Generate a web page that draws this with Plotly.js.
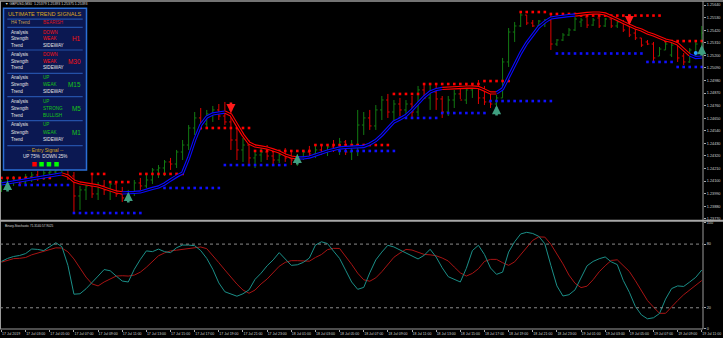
<!DOCTYPE html>
<html><head><meta charset="utf-8">
<script src="https://cdn.plot.ly/plotly-3.0.1.min.js"></script>
<style>html,body{margin:0;padding:0;background:#000;}#chart{width:723px;height:338px;}</style>
</head><body><div id="chart"></div>
<script>
// ---------------- DATA ----------------
const chartTitle = "\u25BC GBPUSD,M30  1.25379 1.25393 1.25375 1.25393";
const oscTitle = "Binary-Stochastic 71.3140 57.9025";

const xTickLabels = ["17 Jul 2019","17 Jul 03:00","17 Jul 05:00","17 Jul 07:00","17 Jul 09:00","17 Jul 11:00","17 Jul 13:00","17 Jul 15:00","17 Jul 17:00","17 Jul 19:00","17 Jul 21:00","17 Jul 23:00","18 Jul 01:00","18 Jul 03:00","18 Jul 05:00","18 Jul 07:00","18 Jul 09:00","18 Jul 11:00","18 Jul 13:00","18 Jul 15:00","18 Jul 17:00","18 Jul 19:00","18 Jul 21:00","18 Jul 23:00","19 Jul 01:00","19 Jul 03:00","19 Jul 05:00","19 Jul 07:00","19 Jul 09:00","19 Jul 11:00"];
const priceTicks = [1.2377,1.2388,1.2399,1.2410,1.2421,1.2432,1.2443,1.2454,1.2465,1.2476,1.2487,1.2498,1.2509,1.2520,1.2531,1.2542,1.2553,1.2564];
const oscTicks = [0,20,80,100];

const barOpen = [1.24039,1.24074,1.24091,1.24109,1.24083,1.24136,1.24153,1.24127,1.24171,1.24179,
1.24197,1.24197,1.24144,1.23969,1.24022,1.24057,1.23987,1.24057,1.24022,1.24074,
1.23987,1.23952,1.24004,1.24083,1.24057,1.24109,1.24197,1.24214,1.24267,1.24249,
1.24354,1.24415,1.24564,1.24652,1.24599,1.24687,1.24722,1.24669,1.24617,1.24459,
1.24372,1.24415,1.24302,1.24328,1.24354,1.24319,1.24284,1.24328,1.24302,1.24284,
1.24310,1.24354,1.24337,1.24372,1.24354,1.24398,1.24372,1.24442,1.24354,1.24415,
1.24590,1.24652,1.24582,1.24722,1.24809,1.24704,1.24774,1.24722,1.24774,1.24704,
1.24897,1.24827,1.24879,1.24818,1.24704,1.24809,1.24862,1.24809,1.24897,1.24914,
1.24827,1.24792,1.24774,1.24827,1.25142,1.25404,1.25457,1.25553,1.25483,1.25457,
1.25483,1.25509,1.25299,1.25334,1.25378,1.25422,1.25492,1.25535,1.25465,1.25527,
1.25457,1.25518,1.25457,1.25492,1.25457,1.25395,1.25352,1.25317,1.25299,1.25194,
1.25247,1.25203,1.25317,1.25194,1.25142,1.25194,1.25203];
const barHigh = [1.24109,1.24127,1.24144,1.24136,1.24162,1.24179,1.24188,1.24197,1.24214,1.24214,
1.24240,1.24214,1.24179,1.24057,1.24083,1.24153,1.24091,1.24109,1.24091,1.24083,
1.24048,1.24022,1.24109,1.24127,1.24171,1.24214,1.24240,1.24284,1.24302,1.24372,
1.24459,1.24590,1.24704,1.24739,1.24722,1.24757,1.24774,1.24792,1.24739,1.24564,
1.24477,1.24459,1.24372,1.24389,1.24415,1.24372,1.24354,1.24389,1.24354,1.24337,
1.24372,1.24407,1.24407,1.24415,1.24415,1.24459,1.24477,1.24459,1.24459,1.24722,
1.24704,1.24722,1.24765,1.24844,1.24862,1.24809,1.24827,1.24809,1.24844,1.24932,
1.24949,1.24940,1.24949,1.24844,1.24844,1.24897,1.24932,1.24958,1.24949,1.24984,
1.24932,1.24879,1.24853,1.25177,1.25439,1.25492,1.25579,1.25553,1.25509,1.25509,
1.25518,1.25570,1.25343,1.25395,1.25439,1.25535,1.25527,1.25553,1.25527,1.25553,
1.25527,1.25535,1.25509,1.25509,1.25465,1.25439,1.25352,1.25334,1.25317,1.25273,
1.25317,1.25317,1.25334,1.25220,1.25264,1.25317,1.25457];
const barLow = [1.24004,1.24039,1.24057,1.24065,1.24057,1.24091,1.24100,1.24109,1.24127,1.24144,
1.24153,1.24109,1.23829,1.23847,1.23934,1.23952,1.23934,1.23978,1.23934,1.23961,
1.23917,1.23934,1.23969,1.24022,1.24039,1.24074,1.24127,1.24144,1.24197,1.24214,
1.24284,1.24372,1.24503,1.24547,1.24564,1.24617,1.24634,1.24590,1.24372,1.24284,
1.24267,1.24240,1.24214,1.24267,1.24284,1.24240,1.24258,1.24267,1.24240,1.24232,
1.24284,1.24302,1.24302,1.24328,1.24319,1.24354,1.24328,1.24328,1.24284,1.24319,
1.24503,1.24547,1.24547,1.24634,1.24652,1.24634,1.24669,1.24652,1.24652,1.24669,
1.24818,1.24722,1.24722,1.24652,1.24669,1.24739,1.24818,1.24774,1.24827,1.24774,
1.24765,1.24739,1.24722,1.24827,1.25098,1.25317,1.25448,1.25465,1.25448,1.25448,
1.25448,1.25247,1.25282,1.25325,1.25369,1.25413,1.25448,1.25439,1.25457,1.25439,
1.25448,1.25439,1.25439,1.25404,1.25360,1.25334,1.25273,1.25290,1.25142,1.25194,
1.25247,1.25185,1.25142,1.25115,1.25133,1.25185,1.25203];
const barClose = [1.24074,1.24091,1.24109,1.24083,1.24136,1.24153,1.24127,1.24171,1.24179,1.24197,
1.24205,1.24144,1.23969,1.24022,1.24057,1.23987,1.24057,1.24022,1.24074,1.23987,
1.23952,1.24004,1.24083,1.24057,1.24109,1.24197,1.24214,1.24267,1.24249,1.24354,
1.24415,1.24564,1.24652,1.24599,1.24687,1.24722,1.24669,1.24617,1.24459,1.24372,
1.24415,1.24302,1.24328,1.24354,1.24319,1.24284,1.24328,1.24302,1.24284,1.24310,
1.24354,1.24337,1.24372,1.24354,1.24398,1.24372,1.24442,1.24354,1.24415,1.24590,
1.24652,1.24582,1.24722,1.24809,1.24704,1.24774,1.24722,1.24774,1.24704,1.24897,
1.24827,1.24879,1.24818,1.24704,1.24809,1.24862,1.24809,1.24897,1.24914,1.24827,
1.24792,1.24774,1.24827,1.25142,1.25404,1.25457,1.25553,1.25483,1.25457,1.25500,
1.25509,1.25299,1.25334,1.25378,1.25422,1.25518,1.25509,1.25465,1.25509,1.25457,
1.25518,1.25457,1.25492,1.25422,1.25378,1.25352,1.25290,1.25299,1.25177,1.25255,
1.25299,1.25290,1.25177,1.25142,1.25247,1.25299,1.25395];

// trend channel (mid value) and its direction (1 = up/blue, -1 = down/red)
const chanMid = [1.24074,1.24083,1.24091,1.24100,1.24109,1.24118,1.24127,1.24136,1.24144,1.24153,
1.24162,1.24144,1.24100,1.24083,1.24074,1.24065,1.24057,1.24039,1.24022,1.24004,
1.23996,1.23996,1.24000,1.24004,1.24022,1.24035,1.24048,1.24074,1.24109,1.24144,
1.24171,1.24302,1.24459,1.24590,1.24660,1.24687,1.24696,1.24704,1.24678,1.24590,
1.24503,1.24433,1.24407,1.24398,1.24389,1.24372,1.24354,1.24328,1.24310,1.24302,
1.24302,1.24310,1.24328,1.24350,1.24363,1.24376,1.24389,1.24394,1.24398,1.24398,
1.24402,1.24424,1.24455,1.24503,1.24564,1.24617,1.24643,1.24674,1.24722,1.24783,
1.24836,1.24879,1.24901,1.24910,1.24914,1.24914,1.24919,1.24923,1.24923,1.24919,
1.24897,1.24871,1.24871,1.24906,1.25011,1.25115,1.25220,1.25308,1.25378,1.25448,
1.25492,1.25527,1.25535,1.25544,1.25548,1.25553,1.25562,1.25566,1.25570,1.25570,
1.25562,1.25540,1.25513,1.25487,1.25461,1.25439,1.25422,1.25395,1.25378,1.25356,
1.25334,1.25321,1.25299,1.25251,1.25203,1.25181,1.25185];
const chanDir = [1,1,1,1,1,1,1,1,1,1,1,
-1,-1,-1,-1,-1,-1,-1,-1,-1,-1,
1,1,1,1,1,1,1,1,1,1,1,1,1,1,1,1,1,
-1,-1,-1,-1,-1,-1,-1,-1,-1,-1,-1,-1,
1,1,1,1,1,1,1,1,1,1,1,1,1,1,1,1,1,1,1,1,1,1,1,1,
-1,-1,-1,-1,-1,-1,-1,-1,-1,
1,1,1,1,1,1,1,1,1,1,1,1,1,
-1,-1,-1,-1,-1,-1,-1,-1,-1,-1,-1,-1,-1,-1,-1,-1,-1,-1,-1,
1,1];

const N = null;
const resistLevel = [1.24127,1.24127,1.24127,1.24127,1.24127,1.24127,1.24127,1.24127,1.24127,N,
N,N,N,N,N,1.24162,1.24162,1.24162,1.24091,1.24091,
1.24091,1.24091,N,1.24162,1.24162,1.24162,1.24162,1.24162,1.24162,1.24162,
1.24162,N,N,1.24564,1.24564,1.24564,1.24564,1.24564,1.24564,1.24564,
1.24564,1.24564,1.24363,1.24363,1.24363,1.24363,1.24363,1.24363,1.24363,1.24363,
1.24363,1.24363,1.24415,1.24415,1.24415,1.24415,1.24415,1.24415,1.24415,1.24415,
1.24415,1.24415,1.24415,1.24415,1.24415,1.24862,1.24862,1.24862,1.24862,1.24862,
1.24949,1.24949,1.24949,1.24949,1.24949,1.24949,1.24949,1.24949,1.24949,1.24949,
1.24975,1.24975,1.24975,1.24975,1.24975,N,1.25579,1.25579,1.25579,1.25579,
1.25579,1.25562,1.25562,1.25562,1.25562,1.25562,1.25548,1.25548,1.25548,1.25548,
1.25548,1.25548,1.25548,1.25548,1.25548,1.25548,1.25548,1.25548,1.25548,1.25548,
1.25325,1.25325,1.25325,1.25325,1.25325,1.25325,1.25325];
const supportLevel = [N,N,N,1.24065,1.24065,1.24065,1.24065,1.24065,1.24065,1.24065,
1.24065,1.24065,1.23820,1.23820,1.23820,1.23820,1.23820,1.23820,1.23820,1.23820,
1.23820,1.23820,1.23820,1.23820,N,N,N,1.24039,1.24039,1.24039,
1.24039,1.24039,1.24039,1.24039,1.24039,1.24039,1.24039,1.24240,1.24240,1.24240,
1.24240,1.24240,1.24240,1.24240,1.24240,1.24240,1.24240,1.24240,N,N,
N,N,N,N,N,N,1.24363,1.24363,1.24363,1.24363,
1.24363,1.24363,1.24363,1.24363,1.24363,1.24363,1.24652,1.24652,1.24652,1.24652,
1.24652,1.24652,1.24652,1.24695,1.24695,1.24695,1.24695,1.24695,1.24695,1.24695,
1.24695,1.24800,1.24800,1.24800,1.24800,1.24800,1.24800,1.24800,1.24800,1.24800,
1.24800,1.24800,1.25216,1.25216,1.25216,1.25216,1.25216,1.25216,1.25216,1.25216,
1.25216,1.25216,1.25216,1.25216,1.25216,1.25216,1.25216,1.25142,1.25142,1.25142,
1.25142,1.25142,1.25098,1.25098,1.25098,1.25098,1.25098];

const upArrowBars = [1,21,49,82,116];
const upArrowPrice = [1.24100,1.24004,1.24337,1.24765,1.25290];
const downArrowBars = [38,104];
const downArrowPrice = [1.24695,1.25465];
const markBar = [115];
const markPrice = [1.25220];

const stochMain = [63.7,66.5,68.3,69.3,71.1,75.4,75.0,73.9,77.6,81.3,
77.6,60.0,32.8,33.2,37.9,44.3,49.9,56.0,54.9,49.9,
45.2,44.3,56.3,65.6,73.6,72.9,75.3,72.9,72.0,76.6,
79.1,79.1,78.5,73.9,66.5,56.3,43.4,35.1,32.8,30.9,
33.2,36.9,46.8,52.6,59.6,65.1,72.0,65.8,60.0,60.5,
62.8,66.9,79.1,82.2,80.5,73.4,66.5,55.4,44.3,37.4,
39.2,52.9,65.1,72.5,78.9,77.3,74.5,71.7,68.5,66.0,
69.4,75.1,67.8,57.7,49.3,46.5,44.3,57.2,73.9,78.9,
70.2,57.5,51.5,53.6,72.5,82.2,89.6,91.1,90.0,87.3,
80.3,60.0,40.6,31.1,32.3,36.9,48.5,59.6,63.7,66.2,
67.9,63.3,60.7,45.7,34.6,21.2,13.3,9.6,10.6,14.6,
28.2,38.1,40.6,40.1,44.3,48.7,55.6];
const stochSignal = [63.0,65.0,66.3,66.6,67.4,69.9,71.7,72.9,75.2,76.5,
76.3,72.7,66.0,58.0,48.9,42.5,40.6,44.3,47.3,49.9,
50.2,49.9,50.8,53.6,58.2,63.4,69.0,71.7,73.6,74.3,
75.1,75.7,76.7,77.3,75.7,69.4,62.5,55.6,48.9,42.3,
36.7,33.7,36.7,42.5,47.1,53.6,59.1,62.8,64.4,64.4,
64.0,63.9,67.4,70.2,74.8,76.0,75.9,68.8,60.9,52.6,
46.4,45.0,48.2,54.0,60.9,67.6,71.6,75.0,74.4,72.6,
70.3,69.9,69.0,66.9,64.1,58.4,52.9,49.9,52.4,56.8,
63.7,65.6,65.6,62.5,60.0,63.3,70.2,77.1,83.6,86.8,
86.6,79.9,71.1,61.4,50.8,43.1,39.0,40.4,46.5,53.9,
59.6,64.6,65.2,59.7,54.2,45.5,36.6,26.8,20.6,14.8,
14.8,21.2,26.8,32.3,36.9,41.6,45.7];
const oscLevels = [20,80];

// dashboard panel
const panelTitle = "ULTIMATE TREND SIGNALS";
const h4Label = "H4 Trend", h4Trend = "BEARISH";
const tfNames = ["H1","M30","M15","M5","M1"];
const tfAnalysis = ["DOWN","DOWN","UP","UP","UP"];
const tfStrength = ["WEAK","WEAK","WEAK","STRONG","WEAK"];
const tfTrend = ["SIDEWAY","SIDEWAY","SIDEWAY","BULLISH","SIDEWAY"];
const entryTitle = "-- Entry Signal --";
const entryUp = 75, entryDown = 25;
const signalStates = [-1,1,1,1];

// ---------------- DRAW ----------------
const bars = barOpen.map((_, i) => i);
const W = 703, TOP = 3, BOT = 329, PH = BOT - TOP;
const px = p => p / W;
const py = p => (BOT - p) / PH;
const FONT = "Liberation Sans, Arial, sans-serif";
const RED = "#ff1010", GREEN = "#17c417", WHITE = "#e6e6e6", GOLD = "#dba520";
const traces = [];

traces.push({type:"ohlc", x:bars, open:barOpen, high:barHigh, low:barLow, close:barClose,
  xaxis:"x", yaxis:"y", tickwidth:0.3,
  increasing:{line:{color:"#127a12", width:1}}, decreasing:{line:{color:"#e00000", width:1}},
  hoverinfo:"skip"});

traces.push({type:"scatter", mode:"markers", x:bars, y:resistLevel, xaxis:"x", yaxis:"y",
  marker:{symbol:"square", size:2.6, color:"#ff0000"}, hoverinfo:"skip"});
traces.push({type:"scatter", mode:"markers", x:bars, y:supportLevel, xaxis:"x", yaxis:"y",
  marker:{symbol:"square", size:2.6, color:"#1010ff"}, hoverinfo:"skip"});

// channel runs
let s = 0;
for (let i = 1; i <= chanDir.length; i++) {
  if (i === chanDir.length || chanDir[i] !== chanDir[s]) {
    const a = Math.max(0, s - 1);
    traces.push({type:"scatter", mode:"lines", x:bars.slice(a, i), y:chanMid.slice(a, i),
      xaxis:"x", yaxis:"y", line:{color: chanDir[s] > 0 ? "#0a0aff" : "#ff0000", width:3.3},
      hoverinfo:"skip"});
    s = i;
  }
}
traces.push({type:"scatter", mode:"lines", x:bars, y:chanMid, xaxis:"x", yaxis:"y",
  line:{color:"#000", width:1.1}, hoverinfo:"skip"});

traces.push({type:"scatter", mode:"markers", x:markBar, y:markPrice, xaxis:"x", yaxis:"y",
  marker:{size:4, color:"#2a9cff"}, hoverinfo:"skip"});

traces.push({type:"scatter", mode:"lines", x:bars, y:stochSignal, xaxis:"x", yaxis:"y2",
  line:{color:"#a81414", width:1}, hoverinfo:"skip"});
traces.push({type:"scatter", mode:"lines", x:bars, y:stochMain, xaxis:"x", yaxis:"y2",
  line:{color:"#1b8f88", width:1}, hoverinfo:"skip"});

const shapes = [];
const annos = [];
const gray = "#9a9a9a";
// frame
shapes.push({type:"line", xref:"paper", yref:"paper", x0:0, x1:px(723), y0:py(1), y1:py(1), line:{color:gray, width:1.5}});
shapes.push({type:"line", xref:"paper", yref:"paper", x0:px(0.5), x1:px(0.5), y0:py(1), y1:py(BOT), line:{color:gray, width:1}});
shapes.push({type:"line", xref:"paper", yref:"paper", x0:1, x1:1, y0:py(1), y1:py(BOT), line:{color:gray, width:1}});
shapes.push({type:"line", xref:"paper", yref:"paper", x0:0, x1:1, y0:py(BOT), y1:py(BOT), line:{color:gray, width:1}});
shapes.push({type:"line", xref:"paper", yref:"paper", x0:0, x1:px(723), y0:py(220.8), y1:py(220.8), line:{color:"#a8a8a8", width:2}});
oscLevels.forEach(v => shapes.push({type:"line", xref:"paper", yref:"y2", x0:0, x1:1, y0:v, y1:v,
  line:{color:"#8a8a8a", width:1, dash:"dot"}}));

// panel
shapes.push({type:"rect", xref:"paper", yref:"paper", x0:px(3.5), x1:px(86.5), y0:py(8.3), y1:py(170),
  fillcolor:"#0b1852", line:{color:"#2b6fd6", width:1.5}, layer:"above"});
const sepY = [19.2, 27.3, 50, 73.3, 96.7, 120.7, 145.7];
sepY.forEach(y => shapes.push({type:"line", xref:"paper", yref:"paper", x0:px(7.3), x1:px(82.7), y0:py(y), y1:py(y),
  line:{color:"#2450a8", width:1.2}, layer:"above"}));
const sqX = [32.3, 39.3, 46.7, 54.3];
signalStates.forEach((st, k) => shapes.push({type:"rect", xref:"paper", yref:"paper",
  x0:px(sqX[k]), x1:px(sqX[k] + 4.5), y0:py(162), y1:py(166.5),
  fillcolor: st > 0 ? "#00ff00" : "#ff0000", line:{width:0}, layer:"above"}));

function txt(t, x, y, color, size, anchor) {
  annos.push({text:t, xref:"paper", yref:"paper", x:px(x), y:py(y), xanchor:anchor || "left", yanchor:"middle",
    showarrow:false, font:{family:FONT, size:size, color:color}});
}
txt(panelTitle, 45, 14, GOLD, 5.6, "center");
txt(h4Label, 9, 22.8, "#c9a050", 4.6);
txt(h4Trend, 40.7, 22.8, h4Trend === "BEARISH" ? "#d8141e" : GREEN, 4.6);
const rowY = [32, 54.8, 77.8, 101.2, 125];
tfNames.forEach((tf, k) => {
  const c = tfAnalysis[k] === "UP" ? GREEN : RED;
  const y = rowY[k];
  const step = k < 3 ? 6.6 : 7.3;
  txt("Analysis", 9, y, WHITE, 4.6);
  txt(tfAnalysis[k], 40.7, y, c, 4.6);
  txt("Strength", 9, y + step, WHITE, 4.6);
  txt(tfStrength[k], 40.7, y + step, c, 4.6);
  txt("Trend", 9, y + 2 * step, WHITE, 4.6);
  const tc = tfTrend[k] === "BULLISH" ? GREEN : (tfTrend[k] === "BEARISH" ? RED : WHITE);
  txt(tfTrend[k], 40.7, y + 2 * step, tc, 4.6);
  txt(tf, 82.5, y + step, c, 6.4, "right");
});
txt(entryTitle, 45, 150.3, GOLD, 5, "center");
txt("UP " + entryUp + "%  DOWN " + entryDown + "%", 45, 156.8, WHITE, 4.6, "center");

txt(chartTitle, 3, 4.3, "#dcdcdc", 3.5);
txt(oscTitle, 3, 226, "#dcdcdc", 3.1);

// arrows
upArrowBars.forEach((b, k) => annos.push({x:b, y:upArrowPrice[k], xref:"x", yref:"y", text:"", showarrow:true,
  ax:0, ay:12, arrowhead:2, arrowsize:0.7, arrowwidth:2.6, arrowcolor:"#3f9f80"}));
downArrowBars.forEach((b, k) => annos.push({x:b, y:downArrowPrice[k], xref:"x", yref:"y", text:"", showarrow:true,
  ax:0, ay:-12, arrowhead:2, arrowsize:0.7, arrowwidth:2.6, arrowcolor:"#ff1a1a"}));

const xTickFont = {family:FONT, size:3.5, color:"#d0d0d0"};
const yTickFont = {family:FONT, size:3.8, color:"#d0d0d0"};
const layout = {
  width:723, height:338, paper_bgcolor:"#000", plot_bgcolor:"#000",
  margin:{l:0, r:20, t:TOP, b:338 - BOT}, showlegend:false, hovermode:false,
  xaxis:{range:[-0.25, 116.2], tickvals:xTickLabels.map((_, k) => k * 4), ticktext:xTickLabels,
    tickfont:xTickFont, ticks:"outside", ticklen:1.5, tickcolor:"#aaa", ticklabelposition:"outside right",
    tickangle:0, ticklabelstandoff:1, automargin:false,
    showgrid:false, zeroline:false, showline:false, anchor:"y2", rangeslider:{visible:false}},
  yaxis:{domain:[0.3344, 1], range:[1.23759, 1.25658], side:"right", tickvals:priceTicks,
    ticktext:priceTicks.map(v => v.toFixed(5)), tickfont:yTickFont, ticks:"outside", ticklen:2, tickcolor:"#aaa",
    showgrid:false, zeroline:false, showline:false, automargin:false},
  yaxis2:{domain:[0, 0.3255], range:[0, 100], side:"right", tickvals:oscTicks, ticktext:oscTicks.map(String),
    tickfont:yTickFont, ticks:"outside", ticklen:2, tickcolor:"#aaa", showgrid:false, zeroline:false, showline:false,
    automargin:false},
  shapes:shapes, annotations:annos
};
Plotly.newPlot("chart", traces, layout, {staticPlot:true, displayModeBar:false});
</script></body></html>
